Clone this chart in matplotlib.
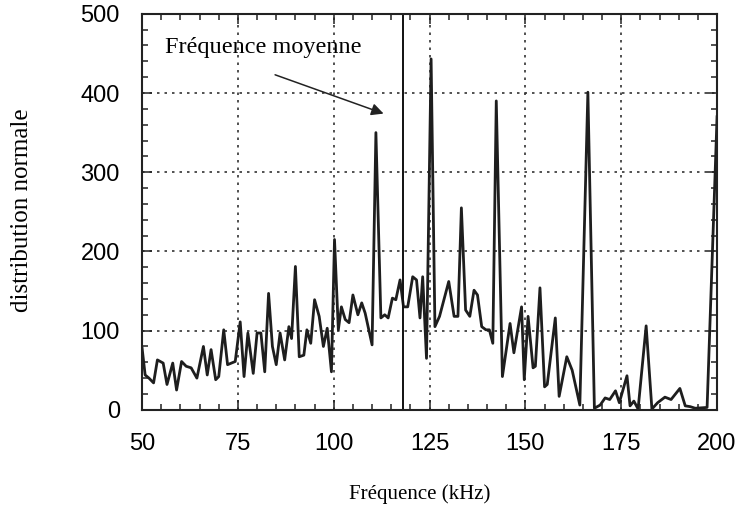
import matplotlib
matplotlib.use('Agg')
import matplotlib.pyplot as plt
from matplotlib.ticker import MultipleLocator

# frequency (kHz) / normal distribution
freq = [50, 50.8, 51.8, 53, 54, 55.5, 56.5, 58, 59, 60.3, 61.5, 62.8, 64.3, 66, 67, 68,
        69.2, 70, 71.3, 72.3, 74.3, 75.6, 76.6, 77.6, 79, 80, 81, 82, 83, 84, 85, 86,
        87.2, 88.3, 89, 90, 91, 92.2, 93, 94, 95, 96.2, 97.3, 98.3, 99.4, 100.2, 101.2,
        102, 103, 104, 105, 106.3, 107.3, 108.2, 110, 111, 112.3, 113.3, 114.2, 115.3,
        116.2, 117.3, 118.2, 119.3, 120.6, 121.6, 122.5, 123.2, 124.2, 125.4, 126.4,
        127.6, 130, 131.4, 132.4, 133.3, 134.4, 135.5, 136.6, 137.5, 138.6, 139.7, 140.6,
        141.5, 142.4, 144, 146, 147, 149, 149.7, 150.7, 152, 152.6, 153.8, 155, 155.7,
        157.8, 158.8, 160.8, 162.2, 164.2, 166.3, 168, 169.5, 170.8, 172, 173.5, 174.5,
        176.5, 177.3, 178.3, 179.4, 181.5, 183, 184.5, 186.4, 188, 190.3, 191.7, 193,
        194.3, 197.4, 200]
dist = [78, 44, 40, 34, 63, 59, 32, 59, 25, 61, 55, 53, 40, 80, 44, 76,
        38, 42, 101, 57, 61, 111, 42, 97, 46, 97, 97, 48, 147, 80, 57, 97,
        63, 105, 90, 181, 67, 69, 101, 84, 139, 118, 80, 103, 48, 215, 101,
        130, 114, 110, 145, 120, 135, 122, 82, 350, 116, 120, 116, 141,
        139, 164, 130, 130, 168, 164, 116, 168, 65, 443, 105,
        118, 162, 118, 118, 255, 126, 118, 151, 145, 105, 101, 101,
        84, 390, 42, 109, 72, 130, 38, 118, 53, 55, 154, 29, 32,
        116, 17, 67, 50, 6, 401, 2, 6, 15, 13, 24, 9,
        43, 5, 11, 1, 106, 1, 9, 16, 13, 27, 5, 4,
        2, 3, 370]

f_moyenne = 118.1
xticks = [50, 75, 100, 125, 150, 175, 200]
yticks = [0, 100, 200, 300, 400, 500]

fig = plt.figure(figsize=(7.4, 5.11), dpi=100)
ax = fig.add_axes([0.192, 0.198, 0.777, 0.775])

ax.plot(freq, dist, color='#1e1e1e', lw=2.0)
ax.axvline(f_moyenne, color='#111111', lw=1.4)

ax.set_xlim(50, 200)
ax.set_ylim(0, 500)
ax.set_xticks(xticks)
ax.set_yticks(yticks)
ax.xaxis.set_minor_locator(MultipleLocator(5))
ax.yaxis.set_minor_locator(MultipleLocator(20))
ax.tick_params(which='both', direction='in', top=True, right=True, width=1.1, color='#222222')
ax.tick_params(which='major', length=7, labelsize=17)
ax.tick_params(which='minor', length=4)
ax.tick_params(axis='x', which='major', pad=17)
ax.tick_params(axis='y', which='major', pad=16)
for lab in ax.get_xticklabels() + ax.get_yticklabels():
    lab.set_family('Liberation Sans')
ax.grid(True, which='major', linestyle=(0, (1.5, 3)), color='#333333', lw=1.2)
for s in ax.spines.values():
    s.set_linewidth(1.5)
    s.set_color('#222222')

serif = 'Liberation Serif'
ax.set_xlabel('Fréquence (kHz)', family=serif, fontsize=15, va='center')
ax.xaxis.set_label_coords(0.483, -0.212)
ax.set_ylabel('distribution normale', family=serif, fontsize=18, va='center')
ax.yaxis.set_label_coords(-0.209, 0.505)

ax.text(81.5, 458, 'Fréquence moyenne', family=serif, fontsize=17.5,
        ha='center', va='center')
ax.annotate('', xy=(113, 374), xytext=(84.7, 423),
            arrowprops=dict(arrowstyle='-|>', color='#222222', lw=1.1,
                            mutation_scale=18, shrinkA=0, shrinkB=0))

fig.savefig('out.png', dpi=100)
